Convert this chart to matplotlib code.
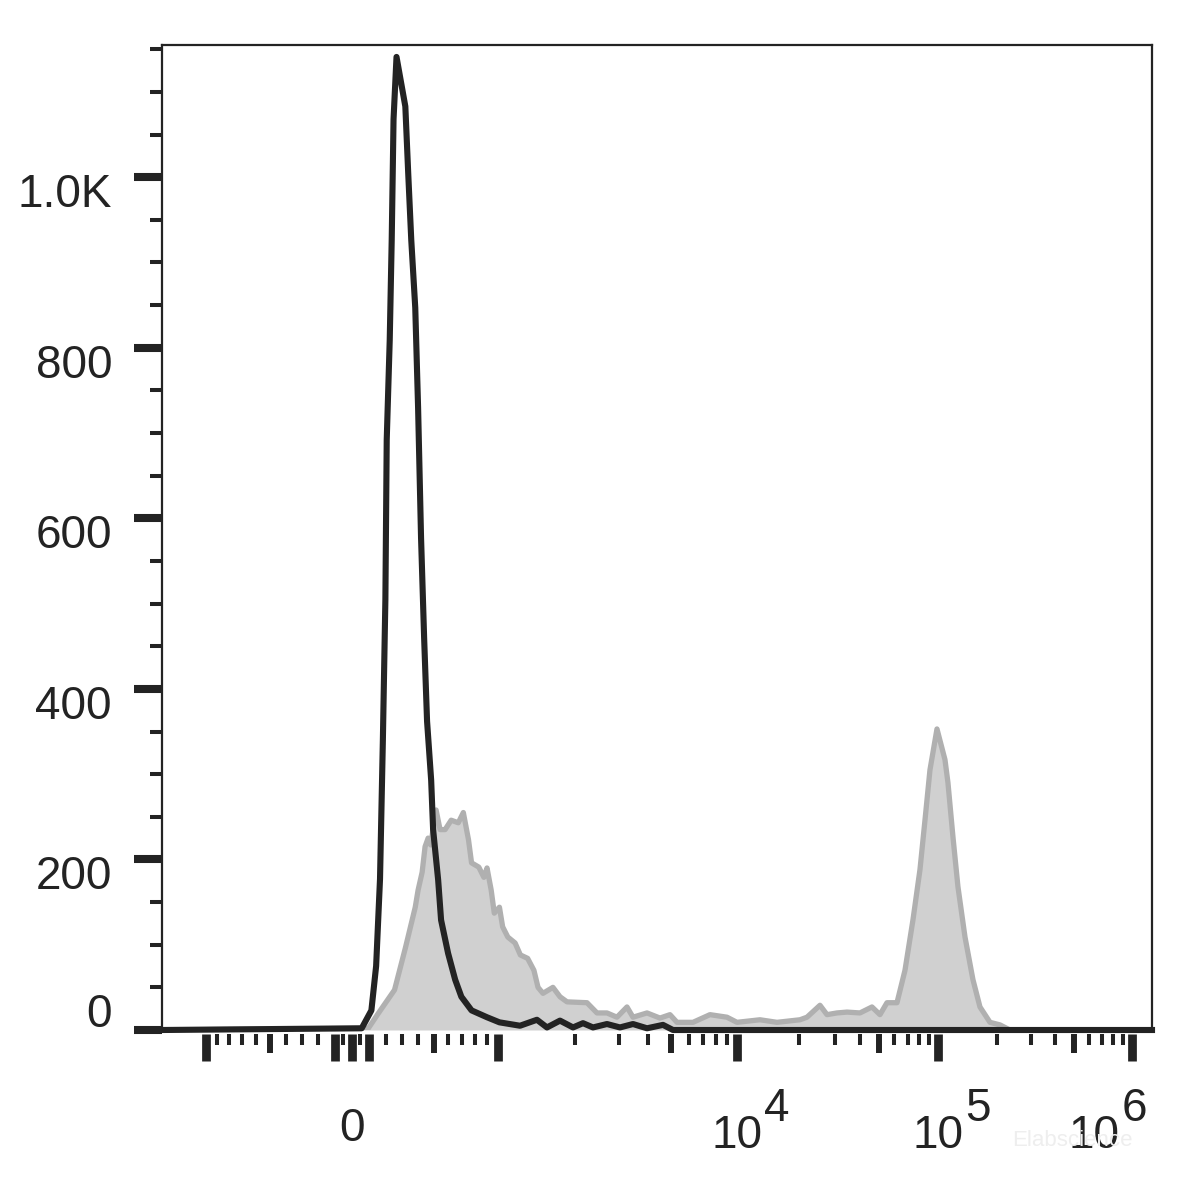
import numpy as np
import matplotlib
matplotlib.use("Agg")
import matplotlib.pyplot as plt

plt.rcParams['font.family'] = ['Liberation Sans', 'DejaVu Sans']

# histogram of the stained sample (grey, filled)
gray_x = [-1494, 96, 153, 252, 318, 380, 398, 424, 443, 463, 480, 516, 543, 578, 621,
          673, 711, 751, 775, 834, 877, 904, 941, 969, 1017, 1048, 1099, 1175, 1232,
          1315, 1391, 1443, 1508, 1648, 1755, 1869, 2239, 2454, 2692, 2957, 3252, 3445,
          3949, 4490, 4965, 5331, 6285, 7510, 9005, 10030, 12900, 15590, 20190, 21860,
          25350, 27470, 30800, 34570, 40180, 46190, 50700, 55020, 61850, 67920, 74570,
          80980, 85890, 91090, 98930, 108700, 112600, 119500, 126700, 137700, 151300,
          164400, 185100, 208300, 234500, 1270800]
gray_y = [0, 2, 19, 47, 96, 144, 164, 185, 215, 225, 217, 258, 235, 235, 246,
          243, 255, 223, 196, 191, 179, 190, 164, 137, 144, 121, 109, 102, 88,
          84, 70, 50, 43, 50, 39, 33, 32, 20, 20, 15, 27, 15,
          20, 14, 18, 9, 9, 18, 15, 9, 12, 9, 12, 15,
          29, 18, 20, 21, 20, 27, 18, 32, 32, 70, 129,
          188, 246, 305, 353, 317, 290, 226, 168, 109, 59,
          27, 9, 6, 0, 0]

# unstained / isotype control (black line)
black_x = [-1494, 57, 114, 142, 165, 182, 197, 205, 223, 235, 246, 264, 318, 336, 355,
           380, 398, 417, 437, 456, 483, 496, 530, 550, 599, 650, 696, 775, 903, 1017,
           1228, 1429, 1563, 1755, 1973, 2159, 2365, 2692, 3042, 3445, 3949, 4627, 5118,
           1270800]
black_y = [0, 2, 23, 75, 177, 340, 505, 692, 809, 927, 1068, 1141, 1083, 1004, 926,
           847, 730, 577, 459, 362, 293, 235, 176, 129, 90, 59, 39, 23, 15, 9,
           5, 12, 3, 11, 3, 8, 3, 7, 3, 7, 2, 6, 0,
           0]

y_major = [0, 200, 400, 600, 800, 1000]
y_labels = ['0', '200', '400', '600', '800', '1.0K']
y_minor = [v for v in range(50, 1151, 50) if v % 200 != 0]

x_long = [-1000, -100, 0, 100, 1000, 1e4, 1e5, 1e6]
x_mid = [-500, 500, 5000, 5e4, 5e5]
x_short = ([-900, -800, -700, -600, -400, -300, -200, -50, 50, 200, 300, 400, 600, 700, 800, 900]
           + [k * 10 ** e for e in (3, 4, 5) for k in (2, 3, 4, 6, 7, 8, 9)])
x_decades = [(1e4, '4', 0), (1e5, '5', 0), (1e6, '6', -27)]

# biexponential (logicle-like) axis
C, P = 90.9, 4.4


def to_data(u):
    u = np.asarray(u, float)
    a = np.abs(u)
    return np.sign(u) * C * (10 ** a - P ** 2 * 10 ** (-a / P) + P ** 2 - 1)


grid = np.linspace(-6, 6, 24001)
grid_x = to_data(grid)


def to_disp(x):
    return np.interp(np.asarray(x, float), grid_x, grid)


dark = '#232323'
W, H = 1180, 1182
fig = plt.figure(figsize=(W / 100, H / 100), dpi=100)
ax = fig.add_axes([162 / W, 1 - 1030 / H, 990 / W, 985 / H])

ax.fill_between(gray_x, gray_y, color='#d0d0d0', lw=0, zorder=1)
ax.plot(gray_x, gray_y, color='#b0b0b0', lw=3.8, zorder=2)
ax.plot(black_x, black_y, color=dark, lw=4.4, zorder=3, clip_on=False)

ax.set_xscale('function', functions=(to_disp, to_data))
ax.set_xlim(-1494, 1270800)
ax.set_ylim(0, 1155)

for s in ['left', 'top', 'right']:
    ax.spines[s].set_color(dark)
    ax.spines[s].set_linewidth(1.6)
ax.spines['bottom'].set_visible(False)
ax.spines['bottom'].set_position(('outward', 3))

ax.set_yticks(y_major)
ax.set_yticks(y_minor, minor=True)
ax.tick_params(axis='y', which='major', length=20, width=5.8, color=dark, labelleft=False)
ax.tick_params(axis='y', which='minor', length=8.5, width=2.9, color=dark)
ax.tick_params(axis='y', which='both', right=False)

ax.set_xticks(x_long)
ax.set_xticks(x_short, minor=True)
ax.tick_params(axis='x', which='major', length=19.5, width=6.3, color=dark, labelbottom=False)
ax.tick_params(axis='x', which='minor', length=8, width=2.9, color=dark)
ax.tick_params(axis='x', which='both', top=False)

# medium ticks on a twin axis
ax2 = ax.twiny()
ax2.set_xscale('function', functions=(to_disp, to_data))
ax2.set_xlim(ax.get_xlim())
for s in ax2.spines.values():
    s.set_visible(False)
ax2.spines['bottom'].set_position(('outward', 3))
ax2.xaxis.set_ticks_position('bottom')
ax2.set_xticks(x_mid)
ax2.set_xticks([], minor=True)
ax2.tick_params(axis='x', which='major', length=13.5, width=4.3, color=dark,
                labelbottom=False, labeltop=False, top=False)

# y tick labels
for v, lab in zip(y_major, y_labels):
    dy = 11 if v == 0 else -13
    ax.annotate(lab, xy=(0, v), xycoords=('axes fraction', 'data'),
                xytext=(-36, dy), textcoords='offset points',
                ha='right', va='center', fontsize=33, color=dark)

# x tick labels
ax.annotate('0', xy=(0, 0), xycoords=('data', 'axes fraction'),
            xytext=(0, -71), textcoords='offset points',
            ha='center', va='center', fontsize=33, color=dark)
for v, e, dx in x_decades:
    ax.annotate('10', xy=(v, 0), xycoords=('data', 'axes fraction'),
                xytext=(dx, -76), textcoords='offset points',
                ha='center', va='center', fontsize=33, color=dark)
    ax.annotate(e, xy=(v, 0), xycoords=('data', 'axes fraction'),
                xytext=(dx + 29, -57), textcoords='offset points',
                ha='center', va='center', fontsize=33, color=dark)

fig.text(1072 / W, 1 - 1140 / H, 'Elabscience', color='#eeeeee', fontsize=16,
         ha='center', va='center')

fig.savefig('out.png', dpi=100, facecolor='white')
